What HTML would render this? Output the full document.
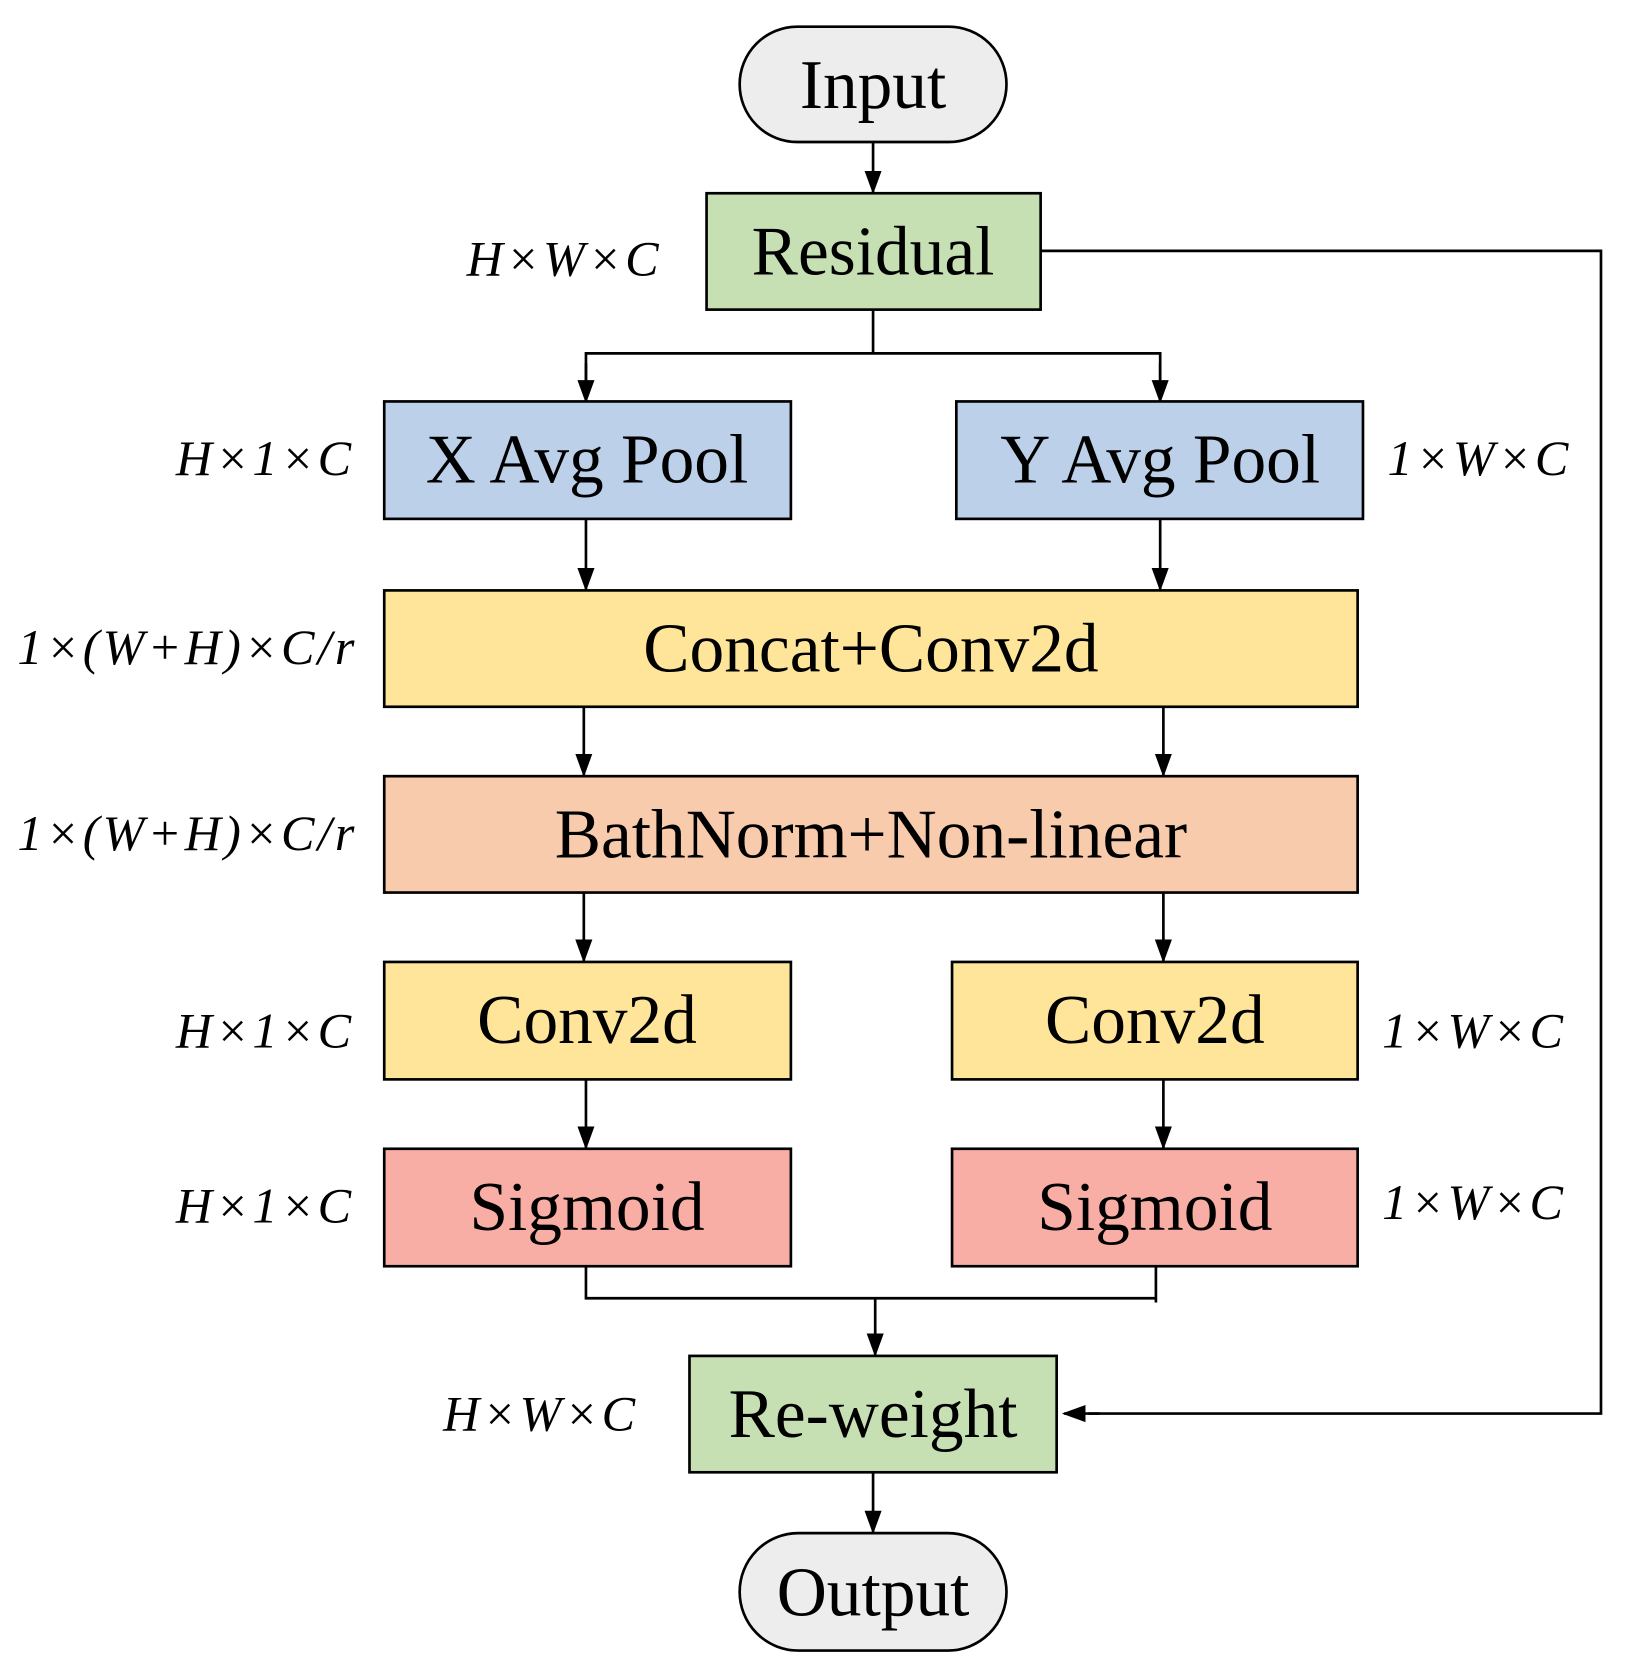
<!DOCTYPE html>
<html><head><meta charset="utf-8"><style>
html,body{margin:0;padding:0;background:#fff;}
svg{display:block}
.t{font-family:"Liberation Serif",serif;font-size:65px;text-anchor:middle;fill:#000}
.l{font-family:"Liberation Serif",serif;font-size:47px;font-style:italic;fill:#000;letter-spacing:3px}
rect{stroke:#000;stroke-width:2.5}
line,polyline{stroke:#000;stroke-width:2.5;fill:none}
</style></head><body>
<svg width="1633" height="1673" viewBox="0 0 1530 1567" preserveAspectRatio="none" xmlns="http://www.w3.org/2000/svg">
<defs>
<marker id="b" markerWidth="22" markerHeight="22" refX="20" refY="11" orient="auto" markerUnits="userSpaceOnUse"><path d="M0,3 L22,11 L0,19 z" fill="#000"/></marker></defs>
<g>
<rect x="693" y="25" width="250" height="108" rx="54" fill="#ededed"/>
<text class="t" x="818" y="101">Input</text>
<line x1="818" y1="133" x2="818" y2="180" marker-end="url(#b)"/>
<rect x="662" y="181" width="313" height="109" fill="#c6e0b4"/>
<text class="t" x="818" y="257">Residual</text>
<text class="l" x="620" y="258" text-anchor="end">H×W×C</text>
<polyline points="818,290 818,331"/>
<polyline points="549,376 549,331 1087,331 1087,376"/>
<line x1="549" y1="340" x2="549" y2="376" marker-end="url(#b)"/>
<line x1="1087" y1="340" x2="1087" y2="376" marker-end="url(#b)"/>
<rect x="360" y="376" width="381" height="110" fill="#bdd0e9"/>
<text class="t" x="550" y="452">X Avg Pool</text>
<rect x="896" y="376" width="381" height="110" fill="#bdd0e9"/>
<text class="t" x="1087" y="452">Y Avg Pool</text>
<text class="l" x="332" y="445" text-anchor="end">H×1×C</text>
<text class="l" x="1300" y="445">1×W×C</text>
<line x1="549" y1="486" x2="549" y2="552" marker-end="url(#b)"/>
<line x1="1087" y1="486" x2="1087" y2="552" marker-end="url(#b)"/>
<rect x="360" y="553" width="912" height="109" fill="#fee599"/>
<text class="t" x="816" y="629">Concat+Conv2d</text>
<text class="l" x="335" y="622" text-anchor="end">1×(W+H)×C/r</text>
<line x1="547" y1="662" x2="547" y2="726" marker-end="url(#b)"/>
<line x1="1090" y1="662" x2="1090" y2="726" marker-end="url(#b)"/>
<rect x="360" y="727" width="912" height="109" fill="#f8cbad"/>
<text class="t" x="816" y="803">BathNorm+Non-linear</text>
<text class="l" x="335" y="796" text-anchor="end">1×(W+H)×C/r</text>
<line x1="547" y1="836" x2="547" y2="900" marker-end="url(#b)"/>
<line x1="1090" y1="836" x2="1090" y2="900" marker-end="url(#b)"/>
<rect x="360" y="901" width="381" height="110" fill="#fee599"/>
<text class="t" x="550" y="977">Conv2d</text>
<rect x="892" y="901" width="380" height="110" fill="#fee599"/>
<text class="t" x="1082" y="977">Conv2d</text>
<text class="l" x="332" y="981" text-anchor="end">H×1×C</text>
<text class="l" x="1295" y="981">1×W×C</text>
<line x1="549" y1="1011" x2="549" y2="1075" marker-end="url(#b)"/>
<line x1="1090" y1="1011" x2="1090" y2="1075" marker-end="url(#b)"/>
<rect x="360" y="1076" width="381" height="110" fill="#f9aea5"/>
<text class="t" x="550" y="1152">Sigmoid</text>
<rect x="892" y="1076" width="380" height="110" fill="#f9aea5"/>
<text class="t" x="1082" y="1152">Sigmoid</text>
<text class="l" x="332" y="1145" text-anchor="end">H×1×C</text>
<text class="l" x="1295" y="1142">1×W×C</text>
<polyline points="549,1186 549,1216 1083,1216"/>
<polyline points="1083,1186 1083,1220"/>
<line x1="820" y1="1216" x2="820" y2="1269" marker-end="url(#b)"/>
<rect x="646" y="1270" width="344" height="109" fill="#c6e0b4"/>
<text class="t" x="818" y="1346">Re-weight</text>
<text class="l" x="598" y="1340" text-anchor="end">H×W×C</text>
<polyline points="975,235 1500,235 1500,1324 1020,1324"/>
<line x1="1030" y1="1324" x2="997" y2="1324" marker-end="url(#b)"/>
<line x1="818" y1="1379" x2="818" y2="1435" marker-end="url(#b)"/>
<rect x="693" y="1436" width="250" height="110" rx="55" fill="#ededed"/>
<text class="t" x="818" y="1513">Output</text>
</g>
</svg>
</body></html>
